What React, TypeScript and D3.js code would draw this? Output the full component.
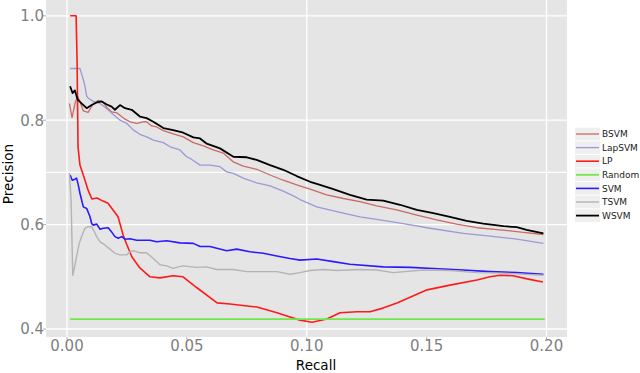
import React from "react";
import * as d3 from "d3";

const seriesNames = ["BSVM", "LapSVM", "LP", "Random", "SVM", "TSVM", "WSVM"];
const seriesColors = ["#c96a66", "#9a9ad6", "#ff1a1a", "#6fe84a", "#2b1aff", "#b4b4b4", "#000000"];
const seriesWidths = [1.3, 1.3, 1.6, 1.8, 1.6, 1.4, 1.8];

const xTicks = [0, 0.05, 0.1, 0.15, 0.2];
const yTicks = [0.4, 0.6, 0.8, 1.0];
const yGrid = [0.4, 0.6, 0.7, 0.8, 1.0];
const xGrid = [0, 0.1, 0.2];

const bsvmRecall = [0.0010, 0.0021, 0.0035, 0.0045, 0.0054, 0.0068, 0.0088, 0.0110, 0.0131, 0.0151, 0.0167, 0.0186, 0.0209, 0.0242, 0.0263, 0.0291, 0.0318, 0.0332, 0.0353, 0.0374, 0.0402, 0.0443, 0.0485, 0.0527, 0.0569, 0.0610, 0.0652, 0.0694, 0.0735, 0.0791, 0.0847, 0.0902, 0.0958, 0.1014, 0.1083, 0.1153, 0.1222, 0.1292, 0.1375, 0.1459, 0.1542, 0.1625, 0.1709, 0.1806, 0.1903, 0.1987];
const bsvmPrecision = [0.832, 0.805, 0.835, 0.845, 0.836, 0.818, 0.815, 0.832, 0.838, 0.834, 0.824, 0.816, 0.814, 0.802, 0.797, 0.794, 0.797, 0.797, 0.789, 0.787, 0.780, 0.774, 0.768, 0.757, 0.751, 0.743, 0.737, 0.720, 0.712, 0.706, 0.695, 0.685, 0.676, 0.668, 0.657, 0.650, 0.644, 0.636, 0.628, 0.618, 0.609, 0.601, 0.594, 0.590, 0.585, 0.581];

const lapRecall = [0.0013, 0.0054, 0.0068, 0.0075, 0.0082, 0.0089, 0.0110, 0.0138, 0.0166, 0.0193, 0.0221, 0.0249, 0.0277, 0.0304, 0.0332, 0.0360, 0.0402, 0.0430, 0.0471, 0.0499, 0.0513, 0.0555, 0.0596, 0.0638, 0.0666, 0.0694, 0.0735, 0.0791, 0.0847, 0.0902, 0.0944, 0.0972, 0.1042, 0.1125, 0.1222, 0.1292, 0.1403, 0.1514, 0.1653, 0.1764, 0.1876, 0.1987];
const lapPrecision = [0.899, 0.899, 0.878, 0.865, 0.846, 0.842, 0.836, 0.832, 0.822, 0.811, 0.800, 0.794, 0.781, 0.773, 0.768, 0.762, 0.757, 0.749, 0.743, 0.730, 0.727, 0.714, 0.714, 0.711, 0.701, 0.698, 0.689, 0.680, 0.674, 0.664, 0.655, 0.648, 0.634, 0.625, 0.615, 0.610, 0.602, 0.593, 0.583, 0.578, 0.572, 0.564];

const lpRecall = [0.0013, 0.0038, 0.0042, 0.0046, 0.0054, 0.0075, 0.0088, 0.0104, 0.0125, 0.0150, 0.0171, 0.0192, 0.0213, 0.0234, 0.0250, 0.0271, 0.0304, 0.0346, 0.0388, 0.0442, 0.0484, 0.0542, 0.0626, 0.0680, 0.0792, 0.0876, 0.0930, 0.0972, 0.1022, 0.1084, 0.1139, 0.1210, 0.1264, 0.1318, 0.1376, 0.1431, 0.1502, 0.1597, 0.1710, 0.1764, 0.1806, 0.1860, 0.1919, 0.1985];
const lpPrecision = [1.0, 1.0, 0.915, 0.749, 0.714, 0.685, 0.666, 0.649, 0.651, 0.645, 0.641, 0.628, 0.615, 0.580, 0.561, 0.538, 0.517, 0.500, 0.498, 0.502, 0.500, 0.479, 0.450, 0.448, 0.442, 0.431, 0.423, 0.417, 0.413, 0.419, 0.431, 0.433, 0.433, 0.440, 0.450, 0.461, 0.475, 0.484, 0.494, 0.500, 0.503, 0.502, 0.496, 0.490];

const randomRecall = [0.0013, 0.1993];
const randomPrecision = [0.419, 0.419];

const svmRecall = [0.0013, 0.0022, 0.0033, 0.0040, 0.0047, 0.0054, 0.0061, 0.0068, 0.0082, 0.0096, 0.0103, 0.0110, 0.0124, 0.0138, 0.0151, 0.0172, 0.0186, 0.0200, 0.0214, 0.0228, 0.0242, 0.0263, 0.0291, 0.0318, 0.0346, 0.0374, 0.0416, 0.0471, 0.0527, 0.0555, 0.0596, 0.0666, 0.0708, 0.0763, 0.0819, 0.0875, 0.0930, 0.0972, 0.1042, 0.1111, 0.1180, 0.1319, 0.1431, 0.1528, 0.1653, 0.1764, 0.1876, 0.1987];
const svmPrecision = [0.695, 0.685, 0.687, 0.689, 0.676, 0.660, 0.647, 0.634, 0.631, 0.615, 0.602, 0.599, 0.601, 0.591, 0.593, 0.594, 0.586, 0.577, 0.574, 0.577, 0.572, 0.573, 0.570, 0.570, 0.570, 0.567, 0.569, 0.565, 0.564, 0.558, 0.558, 0.550, 0.553, 0.548, 0.545, 0.540, 0.535, 0.532, 0.534, 0.529, 0.524, 0.519, 0.518, 0.516, 0.513, 0.510, 0.508, 0.505];

const tsvmRecall = [0.0010, 0.0017, 0.0024, 0.0029, 0.0040, 0.0051, 0.0061, 0.0075, 0.0089, 0.0103, 0.0110, 0.0124, 0.0138, 0.0158, 0.0179, 0.0200, 0.0221, 0.0249, 0.0263, 0.0275, 0.0304, 0.0332, 0.0360, 0.0388, 0.0416, 0.0443, 0.0464, 0.0485, 0.0541, 0.0583, 0.0624, 0.0694, 0.0750, 0.0819, 0.0875, 0.0930, 0.0972, 0.1014, 0.1069, 0.1125, 0.1222, 0.1292, 0.1361, 0.1486, 0.1597, 0.1709, 0.1820, 0.1987];
const tsvmPrecision = [0.699, 0.647, 0.503, 0.513, 0.539, 0.564, 0.577, 0.593, 0.596, 0.596, 0.590, 0.577, 0.567, 0.561, 0.553, 0.545, 0.542, 0.542, 0.548, 0.550, 0.546, 0.546, 0.535, 0.523, 0.521, 0.516, 0.519, 0.521, 0.518, 0.519, 0.514, 0.514, 0.510, 0.510, 0.510, 0.505, 0.508, 0.512, 0.514, 0.512, 0.514, 0.513, 0.508, 0.513, 0.512, 0.508, 0.507, 0.503];

const wsvmRecall = [0.0013, 0.0023, 0.0033, 0.0044, 0.0054, 0.0082, 0.0103, 0.0124, 0.0145, 0.0166, 0.0186, 0.0200, 0.0221, 0.0242, 0.0270, 0.0304, 0.0332, 0.0360, 0.0402, 0.0443, 0.0485, 0.0527, 0.0555, 0.0583, 0.0638, 0.0694, 0.0750, 0.0791, 0.0847, 0.0902, 0.0958, 0.1014, 0.1042, 0.1111, 0.1180, 0.1250, 0.1319, 0.1389, 0.1459, 0.1528, 0.1597, 0.1667, 0.1736, 0.1820, 0.1876, 0.1917, 0.1987];
const wsvmPrecision = [0.865, 0.852, 0.857, 0.840, 0.835, 0.823, 0.829, 0.834, 0.836, 0.830, 0.826, 0.820, 0.829, 0.823, 0.820, 0.807, 0.804, 0.797, 0.785, 0.781, 0.776, 0.767, 0.765, 0.755, 0.746, 0.730, 0.729, 0.724, 0.714, 0.705, 0.693, 0.682, 0.678, 0.668, 0.657, 0.648, 0.646, 0.638, 0.628, 0.622, 0.615, 0.607, 0.602, 0.597, 0.595, 0.590, 0.583];

const allRecall = [bsvmRecall, lapRecall, lpRecall, randomRecall, svmRecall, tsvmRecall, wsvmRecall];
const allPrecision = [bsvmPrecision, lapPrecision, lpPrecision, randomPrecision, svmPrecision, tsvmPrecision, wsvmPrecision];

const W = 640;
const H = 373;
const panel = { left: 46, right: 567, top: 0, bottom: 337 };
const FONT = "DejaVu Sans, sans-serif";

export default function App() {
  const x = d3.scaleLinear().domain([0, 0.2]).range([67, 546.5]);
  const y = d3.scaleLinear().domain([0.4, 1.0]).range([329, 15.8]);
  const line = d3
    .line<[number, number]>()
    .x((d) => x(d[0]))
    .y((d) => y(d[1]));

  const legendY0 = 134;
  const legendStep = 13.6;

  return (
    <svg
      width={W}
      height={H}
      style={{ position: "absolute", left: 0, top: 0, background: "#fff" }}
      fontFamily={FONT}
    >
      <defs>
        <clipPath id="panelClip">
          <rect x={panel.left} y={panel.top} width={panel.right - panel.left} height={panel.bottom - panel.top} />
        </clipPath>
      </defs>
      <rect x={0} y={0} width={W} height={H} fill="#ffffff" />
      <rect
        x={panel.left}
        y={panel.top}
        width={panel.right - panel.left}
        height={panel.bottom - panel.top}
        fill="#e5e5e5"
      />
      {yGrid.map((v) => (
        <line key={"yg" + v} x1={panel.left} x2={panel.right} y1={y(v)} y2={y(v)} stroke="#ffffff" strokeWidth={1.3} />
      ))}
      {xGrid.map((v) => (
        <line key={"xg" + v} x1={x(v)} x2={x(v)} y1={panel.top} y2={panel.bottom} stroke="#ffffff" strokeWidth={1.3} />
      ))}
      <g clipPath="url(#panelClip)">
        {seriesNames.map((name, i) => {
          const pts: [number, number][] = allRecall[i].map((r, j) => [r, allPrecision[i][j]]);
          return (
            <path
              key={name}
              d={line(pts) || ""}
              fill="none"
              stroke={seriesColors[i]}
              strokeWidth={seriesWidths[i]}
              strokeLinejoin="round"
            />
          );
        })}
      </g>
      {yTicks.map((v) => (
        <g key={"yt" + v}>
          <line x1={panel.left - 3} x2={panel.left} y1={y(v)} y2={y(v)} stroke="#b0b0b0" strokeWidth={1} />
          <text x={panel.left - 2} y={y(v)} dy="0.36em" textAnchor="end" fontSize={15} fill="#7f7f7f">
            {v.toFixed(1)}
          </text>
        </g>
      ))}
      {xTicks.map((v) => (
        <g key={"xt" + v}>
          <line x1={x(v)} x2={x(v)} y1={panel.bottom} y2={panel.bottom + 3} stroke="#b0b0b0" strokeWidth={1} />
          <text x={x(v)} y={351} textAnchor="middle" fontSize={15} fill="#7f7f7f">
            {v.toFixed(2)}
          </text>
        </g>
      ))}
      <text x={316} y={370} textAnchor="middle" fontSize={13.5} fill="#000">
        Recall
      </text>
      <text
        transform={`translate(12.5, 174) rotate(-90)`}
        textAnchor="middle"
        fontSize={13.5}
        fill="#000"
      >
        Precision
      </text>
      {seriesNames.map((name, i) => {
        const cy = legendY0 + i * legendStep;
        return (
          <g key={"lg" + name}>
            <rect x={575} y={cy - legendStep / 2 + 0.5} width={25} height={legendStep - 1} fill="#efefef" />
            <line x1={576} x2={599} y1={cy} y2={cy} stroke={seriesColors[i]} strokeWidth={seriesWidths[i]} />
            <text x={602} y={cy} dy="0.36em" fontSize={9} fill="#1a1a1a">
              {name}
            </text>
          </g>
        );
      })}
    </svg>
  );
}
